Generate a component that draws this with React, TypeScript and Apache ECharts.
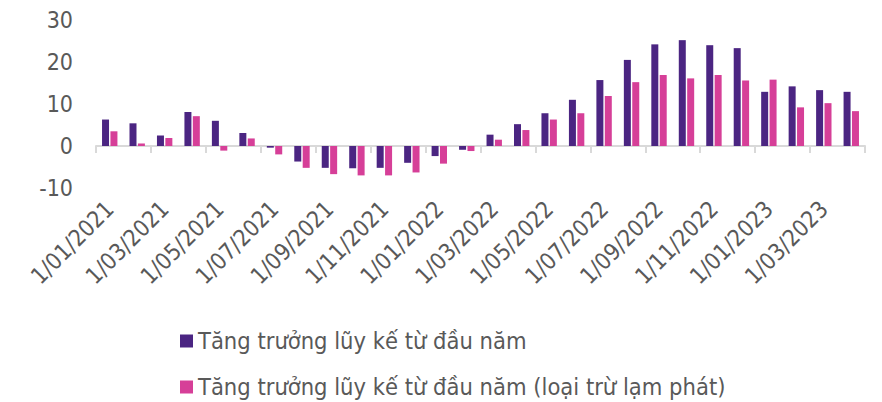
import React, { useEffect, useRef } from "react";
import * as echarts from "echarts";

const categories = [
  "1/01/2021", "1/02/2021", "1/03/2021", "1/04/2021", "1/05/2021", "1/06/2021",
  "1/07/2021", "1/08/2021", "1/09/2021", "1/10/2021", "1/11/2021", "1/12/2021",
  "1/01/2022", "1/02/2022", "1/03/2022", "1/04/2022", "1/05/2022", "1/06/2022",
  "1/07/2022", "1/08/2022", "1/09/2022", "1/10/2022", "1/11/2022", "1/12/2022",
  "1/01/2023", "1/02/2023", "1/03/2023", "1/04/2023",
];

const seriesNames = [
  "Tăng trưởng lũy kế từ đầu năm",
  "Tăng trưởng lũy kế từ đầu năm (loại trừ lạm phát)",
];

const cumulativeGrowth = [
  6.3, 5.4, 2.5, 8.1, 6.0, 3.1, -0.4, -3.7, -5.2, -5.3, -5.2, -4.0,
  -2.4, -0.9, 2.7, 5.2, 7.8, 11.0, 15.7, 20.5, 24.2, 25.2, 24.0, 23.3,
  12.9, 14.2, 13.3, 12.9,
];

const realGrowth = [
  3.5, 0.6, 1.9, 7.1, -1.1, 1.8, -2.0, -5.2, -6.7, -7.0, -7.0, -6.3,
  -4.2, -1.2, 1.5, 3.8, 6.3, 7.8, 11.9, 15.2, 16.9, 16.1, 16.9, 15.6,
  15.8, 9.2, 10.2, 8.3,
];

const yMin = -10;
const yMax = 30;
const yInterval = 10;

const FONT = "'DejaVu Sans Condensed', 'DejaVu Sans', sans-serif";
const TEXT = "#595959";
const PURPLE = "#4B2582";
const PINK = "#D63F98";

export default function App() {
  const ref = useRef<HTMLDivElement>(null);
  useEffect(() => {
    document.body.style.margin = "0";
    if (!ref.current) return;
    const chart = echarts.init(ref.current, undefined, { renderer: "svg" });
    const legendText = { fontSize: 23.5, color: TEXT, fontFamily: FONT };
    chart.setOption({
      animation: false,
      textStyle: { fontFamily: FONT },
      grid: { left: 96, right: 17, top: 20, bottom: 214, containLabel: false },
      legend: [
        {
          data: [seriesNames[0]],
          left: 180,
          top: 329,
          padding: 0,
          icon: "rect",
          itemWidth: 13,
          itemHeight: 13,
          textStyle: legendText,
        },
        {
          data: [seriesNames[1]],
          left: 180,
          top: 375,
          padding: 0,
          icon: "rect",
          itemWidth: 13,
          itemHeight: 13,
          textStyle: legendText,
        },
      ],
      xAxis: {
        type: "category",
        data: categories,
        boundaryGap: true,
        axisLine: { show: true, onZero: true, lineStyle: { color: "#D9D9D9", width: 2 } },
        axisTick: { show: true, interval: 1, length: 7, lineStyle: { color: "#D9D9D9", width: 2 } },
        axisLabel: {
          interval: 1,
          rotate: 45,
          fontSize: 23,
          color: TEXT,
          fontFamily: FONT,
          margin: 17,
          padding: [23, 0, 0, 0],
        },
        splitLine: { show: false },
      },
      yAxis: {
        type: "value",
        min: yMin,
        max: yMax,
        interval: yInterval,
        axisLine: { show: false },
        axisTick: { show: false },
        splitLine: { show: false },
        axisLabel: { fontSize: 23, color: TEXT, fontFamily: FONT, margin: 23 },
      },
      series: [
        {
          name: seriesNames[0],
          type: "bar",
          data: cumulativeGrowth,
          barWidth: 7,
          barGap: "20%",
          itemStyle: { color: PURPLE },
        },
        {
          name: seriesNames[1],
          type: "bar",
          data: realGrowth,
          barWidth: 7,
          barGap: "20%",
          itemStyle: { color: PINK },
        },
      ],
    });
    return () => chart.dispose();
  }, []);
  return <div ref={ref} style={{ width: 882, height: 402 }} />;
}
